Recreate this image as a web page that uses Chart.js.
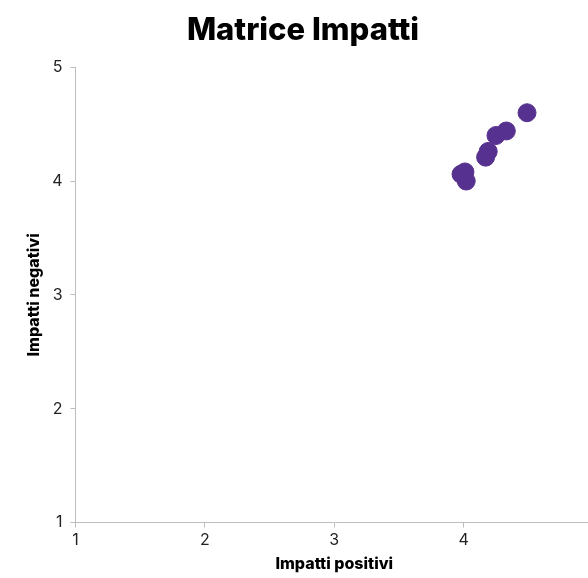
<!DOCTYPE html>
<html>
<head>
<meta charset="utf-8">
<script src="https://cdn.jsdelivr.net/npm/chart.js@4/dist/chart.umd.min.js"></script>
<style>
  html, body { margin: 0; padding: 0; background: #fff; overflow: hidden; }
  #wrap { width: 620px; height: 578px; }
</style>
</head>
<body>
<div id="wrap"><canvas id="chart"></canvas></div>
<script>
const TITLE = 'Matrice Impatti';
const X_LABEL = 'Impatti positivi';
const Y_LABEL = 'Impatti negativi';

const positivi = [4.49, 4.33, 4.25, 4.19, 4.17, 3.98, 4.01, 4.02];
const negativi = [4.60, 4.44, 4.40, 4.26, 4.21, 4.06, 4.08, 4.00];

const points = positivi.map((x, i) => ({ x, y: negativi[i] }));

const axisColor = '#bdbdbd';
const fontFamily = 'Inter, Roboto, sans-serif';

new Chart(document.getElementById('chart'), {
  type: 'scatter',
  data: {
    datasets: [{
      data: points,
      backgroundColor: '#57318f',
      borderColor: '#57318f',
      pointRadius: 9,
      pointHoverRadius: 9
    }]
  },
  options: {
    responsive: true,
    maintainAspectRatio: false,
    animation: false,
    layout: { padding: { top: 6, right: 27, left: 13, bottom: 0 } },
    plugins: {
      legend: { display: false },
      tooltip: { enabled: false },
      title: {
        display: true,
        text: TITLE,
        color: '#000',
        font: { family: fontFamily, size: 31, weight: '800' },
        padding: { top: 6, bottom: 18 }
      }
    },
    scales: {
      x: {
        type: 'linear',
        min: 1,
        max: 5,
        ticks: {
          stepSize: 1, color: '#222', font: { family: fontFamily, size: 16 }, padding: 3,
          // the window cuts the chart just before the last label
          callback: (v) => (v === 5 ? '' : v)
        },
        grid: { drawOnChartArea: false, color: axisColor, tickLength: 5 },
        border: { color: axisColor, width: 1 },
        title: { display: true, text: X_LABEL, color: '#000', font: { family: fontFamily, size: 16, weight: '800' }, padding: { top: 2 } }
      },
      y: {
        type: 'linear',
        min: 1,
        max: 5,
        ticks: { stepSize: 1, color: '#222', font: { family: fontFamily, size: 16 }, padding: 8 },
        grid: { drawOnChartArea: false, color: axisColor, tickLength: 5 },
        border: { color: axisColor, width: 1 },
        title: { display: true, text: Y_LABEL, color: '#000', font: { family: fontFamily, size: 16, weight: '800' }, padding: { top: 12, bottom: 0 } }
      }
    }
  }
});
</script>
</body>
</html>
